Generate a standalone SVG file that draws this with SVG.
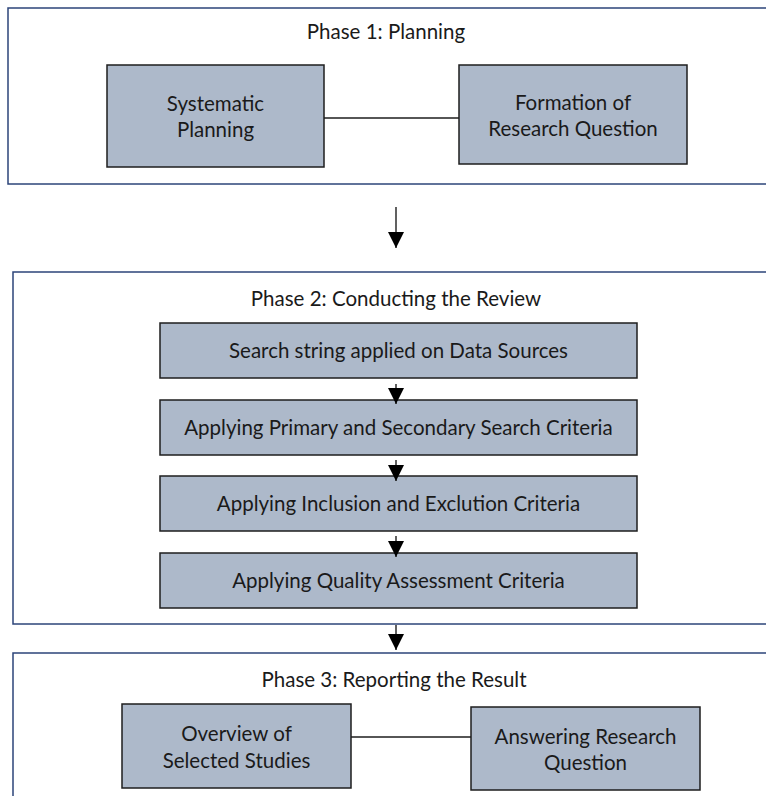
<svg xmlns="http://www.w3.org/2000/svg" width="766" height="796" viewBox="0 0 766 796">
<defs>
<style>
.phase{fill:#ffffff;stroke:#2c4479;stroke-width:1.5}
.node{fill:#adb9ca;stroke:#1e1e1e;stroke-width:1.5}
.t{font-family:"Lato","Open Sans","Liberation Sans",sans-serif;font-size:20.5px;fill:#1a1a1a;text-anchor:middle}
.c{stroke:#1e1e1e;stroke-width:1.4;fill:none}
</style>
<marker id="ah" markerUnits="userSpaceOnUse" markerWidth="16" markerHeight="16" refX="16" refY="8" orient="auto">
<path d="M0,0 L16,8 L0,16 z" fill="#000"/>
</marker>
</defs>
<rect width="766" height="796" fill="#ffffff"/>
<g id="phase1">
<rect class="phase" x="8" y="8" width="780" height="176"/>
<text class="t" x="386" y="39">Phase 1: Planning</text>
</g>
<g id="phase2">
<rect class="phase" x="13" y="272" width="780" height="352"/>
<text class="t" x="396" y="306">Phase 2: Conducting the Review</text>
</g>
<g id="phase3">
<rect class="phase" x="13" y="653" width="780" height="160"/>
<text class="t" x="394" y="687">Phase 3: Reporting the Result</text>
</g>
<g id="n-systematic">
<rect class="node" x="107" y="65" width="217" height="102"/>
<text class="t" x="215.5" y="111">Systematic</text>
<text class="t" x="215.5" y="137">Planning</text>
</g>
<g id="n-formation">
<rect class="node" x="459" y="65" width="228" height="99"/>
<text class="t" x="573" y="110">Formation of</text>
<text class="t" x="573" y="136">Research Question</text>
</g>
<g id="n-search">
<rect class="node" x="160" y="323" width="477" height="55"/>
<text class="t" x="398.5" y="358">Search string applied on Data Sources</text>
</g>
<g id="n-primary">
<rect class="node" x="160" y="400" width="477" height="55"/>
<text class="t" x="398.5" y="435">Applying Primary and Secondary Search Criteria</text>
</g>
<g id="n-inclusion">
<rect class="node" x="160" y="476" width="477" height="55"/>
<text class="t" x="398.5" y="511">Applying Inclusion and Exclution Criteria</text>
</g>
<g id="n-quality">
<rect class="node" x="160" y="553" width="477" height="55"/>
<text class="t" x="398.5" y="588">Applying Quality Assessment Criteria</text>
</g>
<g id="n-overview">
<rect class="node" x="122" y="704" width="229" height="84"/>
<text class="t" x="236.5" y="741">Overview of</text>
<text class="t" x="236.5" y="768">Selected Studies</text>
</g>
<g id="n-answering">
<rect class="node" x="471" y="707" width="229" height="83"/>
<text class="t" x="585.5" y="744">Answering Research</text>
<text class="t" x="585.5" y="770">Question</text>
</g>
<g id="connectors">
<line class="c" x1="324" y1="118" x2="459" y2="118"/>
<line class="c" x1="351" y1="737" x2="471" y2="737"/>
<line class="c" x1="396" y1="207" x2="396" y2="248" marker-end="url(#ah)"/>
<line class="c" x1="396" y1="384" x2="396" y2="404" marker-end="url(#ah)"/>
<line class="c" x1="396" y1="460" x2="396" y2="481" marker-end="url(#ah)"/>
<line class="c" x1="396" y1="536" x2="396" y2="557" marker-end="url(#ah)"/>
<line class="c" x1="396" y1="625" x2="396" y2="650" marker-end="url(#ah)"/>
</g>
</svg>
